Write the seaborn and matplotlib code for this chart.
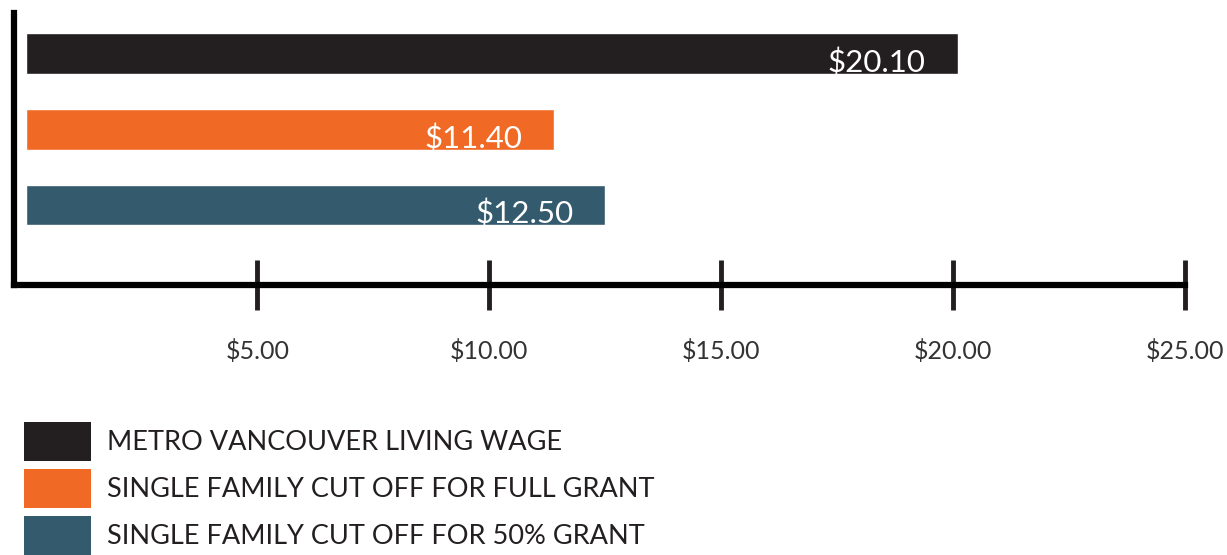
import numpy as np
import pandas as pd
import matplotlib.pyplot as plt
import seaborn as sns
from matplotlib.patches import Patch

# data
categories = ['METRO VANCOUVER LIVING WAGE',
              'SINGLE FAMILY CUT OFF FOR FULL GRANT',
              'SINGLE FAMILY CUT OFF FOR 50% GRANT']
wages = [20.10, 11.40, 12.50]
tick_vals = [5, 10, 15, 20, 25]
tick_labels = ['$5.00', '$10.00', '$15.00', '$20.00', '$25.00']
colors = ['#231f20', '#f06a25', '#345b6d']

sns.set_style('white')
plt.rcParams['font.family'] = ['Lato', 'DejaVu Sans']

df = pd.DataFrame({'cat': categories, 'wage': wages})

fig = plt.figure(figsize=(12.27, 5.55), dpi=100)
ax = fig.add_axes([14/1227, 1-285/555, (1185-14)/1227, (285-13)/555])

sns.barplot(data=df, x='wage', y='cat', hue='cat', palette=colors,
            orient='h', width=0.54, legend=False, ax=ax, saturation=1)

ax.set_xlim(-0.25, 25)
ax.set_ylim(3.06, -0.54)
ax.set_xlabel('')
ax.set_ylabel('')
ax.set_yticks([])
ax.set_xticks(tick_vals)
ax.set_xticklabels(tick_labels)
ax.tick_params(axis='x', bottom=True, direction='inout', length=36, width=3.5,
               color='#231f20', pad=21, labelsize=18, labelcolor='#333333')

for s in ['top', 'right']:
    ax.spines[s].set_visible(False)
for s in ['left', 'bottom']:
    ax.spines[s].set_color('black')
    ax.spines[s].set_linewidth(4.5)
    ax.spines[s].set_capstyle('projecting')

# value labels inside bars
for i, v in enumerate(wages):
    ax.annotate(f'${v:.2f}', xy=(v, i + 0.25), xytext=(-23, 0),
                textcoords='offset points', ha='right', va='baseline',
                color='white', fontsize=22.5, annotation_clip=False)

handles = [Patch(facecolor=c, edgecolor='none') for c in colors]
fig.legend(handles, categories, loc='upper left',
           bbox_to_anchor=(24/1227, 1-422/555), frameon=False,
           fontsize=19.5, handlelength=2.46, handleheight=1.85,
           labelspacing=0.28, handletextpad=0.62, borderpad=0,
           borderaxespad=0, labelcolor='#231f20')

fig.savefig('out.png', dpi=100)
